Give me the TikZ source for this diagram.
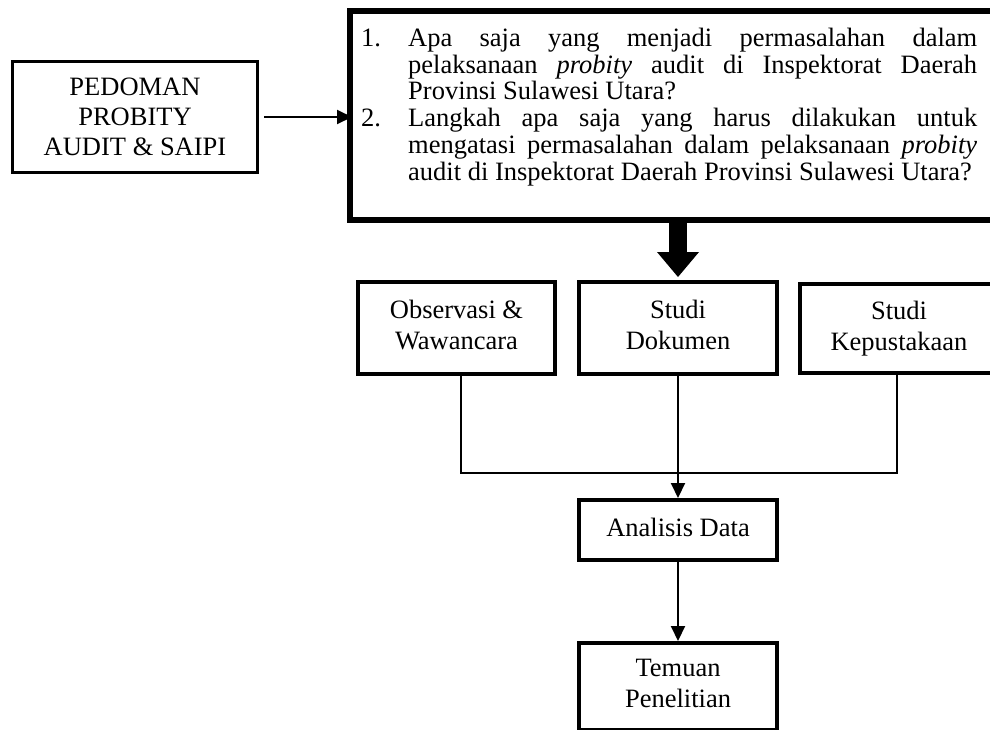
\documentclass[tikz,border=0pt]{standalone}
\usepackage{fontspec}
\setmainfont{Liberation Serif}
\usetikzlibrary{arrows.meta,calc}
\hbadness=10000
\begin{document}
\begin{tikzpicture}[x=1pt,y=-1pt,
  txt/.style={font=\fontsize{26.5pt}{31pt}\selectfont},
  box/.style={draw, line width=4pt, align=center, inner sep=0pt, txt},
  arr/.style={line width=2pt, -{Triangle[width=14pt,length=15pt]}},
  link/.style={line width=2pt}]
\useasboundingbox (0,0) rectangle (990,729);

% left box
\node[box, line width=3.3pt, minimum width=244.7pt, minimum height=110.7pt,
      font=\fontsize{26.5pt}{30pt}\selectfont] (ped) at (135,117)
  {PEDOMAN\\PROBITY\\AUDIT \& SAIPI};

% question box
\node[draw, line width=6pt, minimum width=643pt, minimum height=209pt, inner sep=0pt] (q) at (671.5,115.5) {};
\node[anchor=north west, inner sep=0pt, align=left,
      font=\fontsize{26.5pt}{26.8pt}\selectfont] (qt) at (361,26)
  {\rule{0pt}{20pt}\makebox[47pt][l]{1.}\makebox[569pt][s]{Apa saja yang menjadi permasalahan dalam}\\
   \hspace*{47pt}\makebox[569pt][s]{pelaksanaan \emph{probity} audit di Inspektorat Daerah}\\
   \hspace*{47pt}Provinsi Sulawesi Utara?\\
   \makebox[47pt][l]{2.}\makebox[569pt][s]{Langkah apa saja yang harus dilakukan untuk}\\
   \hspace*{47pt}\makebox[569pt][s]{mengatasi permasalahan dalam pelaksanaan \emph{probity}}\\
   \hspace*{47pt}audit di Inspektorat Daerah Provinsi Sulawesi Utara?};

% method boxes
\node[box, minimum width=197pt, minimum height=92pt] (obs) at (456.5,328) {Observasi \&\\Wawancara\vphantom{p}};
\node[box, minimum width=198pt, minimum height=92pt] (sd) at (678,328) {Studi\\Dokumen\vphantom{p}};
\node[box, line width=3.5pt, minimum width=198pt, minimum height=89pt] (kep) at (899,328.5) {Studi\\Kepustakaan};

% analysis and findings
\node[box, minimum width=198pt, minimum height=60pt] (ad) at (678,530) {Analisis Data\vphantom{p}};
\node[box, minimum width=198pt, minimum height=87pt] (tp) at (678,686.5) {Temuan\\Penelitian\vphantom{p}};

% connectors
\draw[arr] ([xshift=5pt]ped.east) -- ([xshift=5pt]ped.east -| q.west);

\draw[line width=18pt] (sd.north |- q.south) -- ([yshift=26pt]sd.north);
\fill ([yshift=3pt]sd.north) -- ++(-21,-25) -- ++(42,0) -- cycle;

\coordinate (j) at (678,473);
\draw[link] ([xshift=4.5pt]obs.south) -- ([xshift=4.5pt]obs.south |- j) -- ([xshift=-2pt]kep.south |- j) -- ([xshift=-2pt]kep.south);
\draw[arr] (sd.south) -- (ad.north);
\draw[arr] (ad.south) -- (tp.north);
\end{tikzpicture}
\end{document}
